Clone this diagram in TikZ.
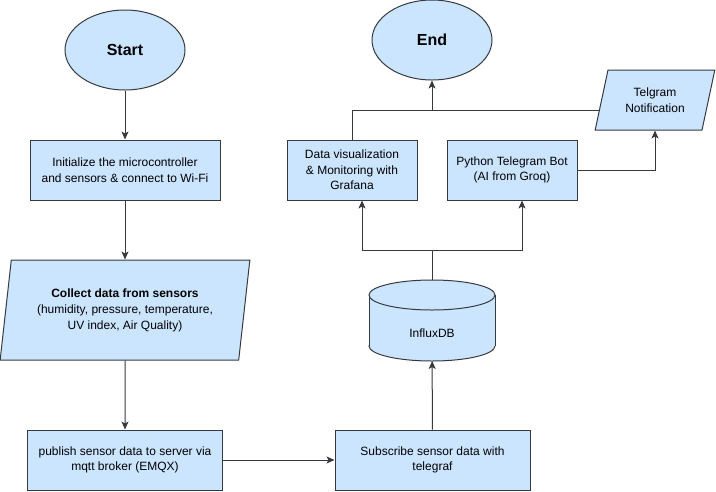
\documentclass[tikz,border=0pt]{standalone}
\usepackage{fontspec}
\setmainfont{Liberation Sans}
\usetikzlibrary{shapes.geometric,arrows.meta}

\definecolor{boxfill}{HTML}{CCE5FF}
\definecolor{boxline}{HTML}{36393D}

\begin{document}
\begin{tikzpicture}[x=1pt,y=-1pt,
		every node/.style={font=\fontsize{12}{15.5}\selectfont, align=center, text=black},
		proc/.style={rectangle, draw=boxline, fill=boxfill, line width=1pt, minimum height=60, inner sep=0pt},
		term/.style={ellipse, draw=boxline, fill=boxfill, line width=1pt, minimum width=120, minimum height=80, inner sep=0pt, font=\fontsize{16}{19}\selectfont\bfseries},
		io/.style={trapezium, trapezium stretches=true, draw=boxline, fill=boxfill, line width=1pt, inner sep=0pt},
		store/.style={rectangle, minimum width=126, minimum height=81, inner sep=0pt, outer sep=0pt},
		flow/.style={draw=boxline, line width=1pt, -{Stealth[length=8pt,width=7pt,inset=2pt]}},
		link/.style={draw=boxline, line width=1pt}]
	\useasboundingbox (0,0) rectangle (716,491);

	%Left column
	\node[term] (start) at (125,50) {Start};
	\node[proc, minimum width=190] (init) at (125,170) {Initialize the microcontroller\\and sensors \& connect to Wi-Fi};
	\node[io, minimum width=250, minimum height=100, trapezium left angle=78.7, trapezium right angle=101.3] (collect) at (125,310)
		{\textbf{Collect data from sensors}\\[1pt](humidity, pressure, temperature,\\UV index, Air Quality)};
	\node[proc, minimum width=195] (pub) at (125,460) {publish sensor data to server via\\mqtt broker (EMQX)};

	%Database (drawn by hand)
	\node[store] (db) at (432,320.5) {};
	\filldraw[fill=boxfill, draw=boxline, line width=1pt] ([yshift=15pt]db.south) ellipse [x radius=63, y radius=15];
	\fill[boxfill] ([yshift=-15pt]db.north west) rectangle ([yshift=15pt]db.south east);
	\draw[link] ([yshift=-15pt]db.north west) -- ([yshift=15pt]db.south west);
	\draw[link] ([yshift=-15pt]db.north east) -- ([yshift=15pt]db.south east);
	\filldraw[fill=boxfill, draw=boxline, line width=1pt] ([yshift=-15pt]db.north) ellipse [x radius=63, y radius=15];
	\node (dbtext) at ([yshift=-12.5pt]db.center) {InfluxDB};

	%Right column
	\node[proc, minimum width=195] (sub) at (432.5,460) {Subscribe sensor data with\\telegraf};
	\node[proc, minimum width=130] (viz) at (352,170) {Data visualization\\\& Monitoring with\\Grafana};
	\node[proc, minimum width=130] (bot) at (512,170) {Python Telegram Bot\\(AI from Groq)};
	\node[io, minimum width=120, minimum height=60, trapezium left angle=71.6, trapezium right angle=108.4] (telgram) at (655,100) {Telgram\\Notification};
	\node[term] (end) at (432,40) {End};

	\coordinate (split) at (432,250);
	\coordinate (join) at (end.south |- telgram.191);

	\draw[flow] (start) -- (init);
	\draw[flow] (init) -- (collect);
	\draw[flow] (collect) -- (pub);
	\draw[flow] (pub) -- (sub);
	\draw[flow] (sub) -- (db);

	\draw[link] (db.north) -- (split);
	\draw[flow] (split) -| ([xshift=10pt]viz.south);
	\draw[flow] (split) -| ([xshift=10pt]bot.south);

	\draw[flow] (bot.east) -| (telgram.center |- telgram.south);
	\draw[link] (viz.north) |- (telgram.191);
	\draw[flow] (join) -- (end.south);
\end{tikzpicture}
\end{document}
